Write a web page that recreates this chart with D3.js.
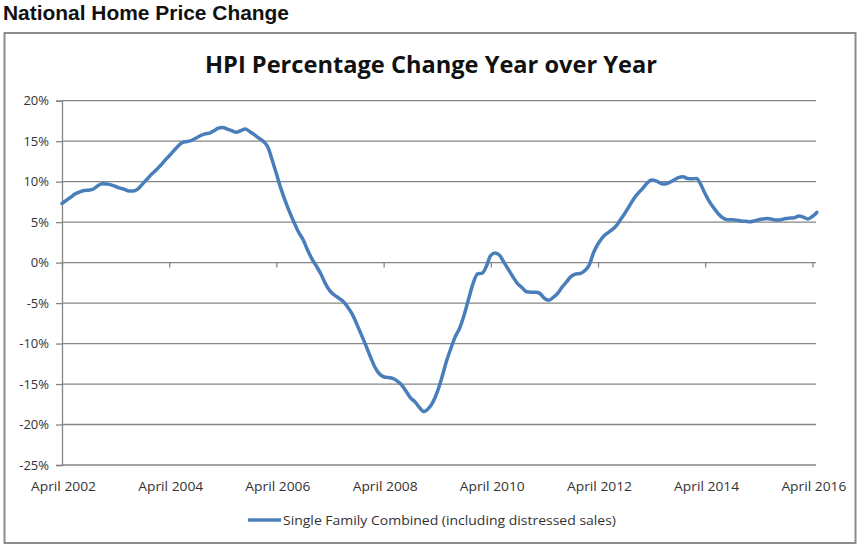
<!DOCTYPE html>
<html>
<head>
<meta charset="utf-8">
<script src="https://cdn.jsdelivr.net/npm/d3@7/dist/d3.min.js"></script>
<style>
  html, body { margin: 0; padding: 0; background: #fff; }
  svg { display: block; }
</style>
</head>
<body>
<svg id="chart" width="866" height="553"></svg>
<script>
// ---- data ----
const pageTitle = "National Home Price Change";
const chartTitle = "HPI Percentage Change Year over Year";
const seriesName = "Single Family Combined (including distressed sales)";
const startYear = 2002, startMonth = 3; // April 2002 (0-based month)
const hpiChange = [
  7.3, 7.7, 8.1, 8.5, 8.75, 8.9, 8.95, 9.1, 9.5, 9.75, 9.7, 9.6,
  9.4, 9.2, 9.05, 8.85, 8.85, 9.1, 9.7, 10.3, 10.9, 11.4, 12.0, 12.6,
  13.2, 13.8, 14.4, 14.85, 14.95, 15.1, 15.4, 15.7, 15.9, 16.0, 16.3, 16.6,
  16.7, 16.5, 16.3, 16.1, 16.3, 16.5, 16.2, 15.8, 15.4, 15.0, 14.3, 12.8,
  11.0, 9.2, 7.6, 6.2, 4.9, 3.7, 2.8, 1.5, 0.4, -0.5, -1.5, -2.6,
  -3.5, -4.0, -4.4, -4.8, -5.5, -6.4, -7.6, -8.9, -10.2, -11.6, -12.9, -13.7,
  -14.1, -14.2, -14.3, -14.6, -15.1, -15.9, -16.7, -17.2, -17.9, -18.4, -18.0, -17.3,
  -16.0, -14.3, -12.3, -10.7, -9.2, -8.1, -6.5, -4.5, -2.6, -1.4, -1.3, -0.5,
  0.9, 1.2, 0.9, 0.0, -0.9, -1.8, -2.6, -3.1, -3.6, -3.65, -3.65, -3.8,
  -4.4, -4.65, -4.3, -3.8, -3.0, -2.35, -1.7, -1.4, -1.35, -1.0, -0.3, 1.2,
  2.3, 3.1, 3.6, 4.0, 4.5, 5.3, 6.1, 7.0, 7.9, 8.6, 9.2, 9.8,
  10.2, 10.1, 9.8, 9.7, 9.9, 10.2, 10.5, 10.6, 10.4, 10.35, 10.4, 9.7,
  8.5, 7.5, 6.7, 6.0, 5.5, 5.3, 5.3, 5.25, 5.15, 5.1, 5.05, 5.15,
  5.3, 5.4, 5.45, 5.35, 5.25, 5.3, 5.45, 5.5, 5.55, 5.75, 5.6, 5.4,
  5.7, 6.2
];
const yTicks = [20, 15, 10, 5, 0, -5, -10, -15, -20, -25];
const xTickYears = [2002, 2004, 2006, 2008, 2010, 2012, 2014, 2016];

// ---- build ----
const data = hpiChange.map((v, i) => ({ date: new Date(startYear, startMonth + i, 1), value: v }));

const svg = d3.select("#chart");
const font = "'Liberation Sans', Arial, sans-serif";
const bodyFont = "'Open Sans', 'Liberation Sans', sans-serif";

svg.append("text")
  .attr("x", 3).attr("y", 20)
  .attr("font-family", font).attr("font-weight", "bold")
  .attr("font-size", 20).attr("fill", "#111")
  .attr("textLength", 286).attr("lengthAdjust", "spacingAndGlyphs")
  .text(pageTitle);

svg.append("rect")
  .attr("x", 4.5).attr("y", 33).attr("width", 851).attr("height", 510)
  .attr("fill", "#fff").attr("stroke", "#8c8c8c").attr("stroke-width", 2);

svg.append("text")
  .attr("x", 431).attr("y", 73)
  .attr("text-anchor", "middle")
  .attr("font-family", bodyFont).attr("font-weight", 700)
  .attr("font-size", 24).attr("fill", "#111")
  .attr("textLength", 452).attr("lengthAdjust", "spacingAndGlyphs")
  .text(chartTitle);

const x = d3.scaleTime()
  .domain([new Date(2002, 3, 1), new Date(2016, 3, 1)])
  .range([62, 812.4]);
const y = d3.scaleLinear().domain([-25, 20]).range([465, 100.7]);
const plotRight = 816;

// gridlines
svg.append("g").selectAll("line").data(yTicks).join("line")
  .attr("x1", 62).attr("x2", plotRight)
  .attr("y1", d => y(d)).attr("y2", d => y(d))
  .attr("stroke", "#858585").attr("stroke-width", 1.3);

// y axis
const yAxis = d3.axisLeft(y).tickValues(yTicks).tickSize(6).tickPadding(7)
  .tickFormat(d => d + "%");
const gy = svg.append("g").attr("transform", "translate(62,0)").call(yAxis);
gy.select(".domain").attr("stroke", "#858585").attr("stroke-width", 1.3);
gy.selectAll(".tick line").attr("stroke", "#858585").attr("stroke-width", 1.3);
gy.selectAll("text").attr("font-family", bodyFont).attr("font-size", 13).attr("fill", "#333");

// x axis at 0% with downward ticks
const xTickDates = xTickYears.map(yr => new Date(yr, 3, 1));
const xAxis = d3.axisBottom(x).tickValues(xTickDates).tickSize(5).tickFormat("");
const gx = svg.append("g").attr("transform", `translate(0,${y(0)})`).call(xAxis);
gx.select(".domain").remove();
gx.selectAll(".tick line").attr("stroke", "#858585").attr("stroke-width", 1.3);

// x labels at bottom
svg.append("g").selectAll("text").data(xTickDates).join("text")
  .attr("x", d => x(d) + 1.5).attr("y", 491)
  .attr("text-anchor", "middle")
  .attr("font-family", bodyFont).attr("font-size", 13).attr("fill", "#333")
  .attr("textLength", 65).attr("lengthAdjust", "spacingAndGlyphs")
  .text(d => "April " + d.getFullYear());

// line
const line = d3.line().x(d => x(d.date)).y(d => y(d.value)).curve(d3.curveMonotoneX);
svg.append("path").datum(data)
  .attr("d", line)
  .attr("fill", "none").attr("stroke", "#4a7ebb")
  .attr("stroke-width", 3.5).attr("stroke-linejoin", "round").attr("stroke-linecap", "round");

// legend
svg.append("line")
  .attr("x1", 248).attr("x2", 281).attr("y1", 520).attr("y2", 520)
  .attr("stroke", "#4a7ebb").attr("stroke-width", 3.5);
svg.append("text")
  .attr("x", 283).attr("y", 524.5)
  .attr("font-family", bodyFont).attr("font-size", 13).attr("fill", "#333")
  .attr("textLength", 333).attr("lengthAdjust", "spacingAndGlyphs")
  .text(seriesName);
</script>
</body>
</html>
